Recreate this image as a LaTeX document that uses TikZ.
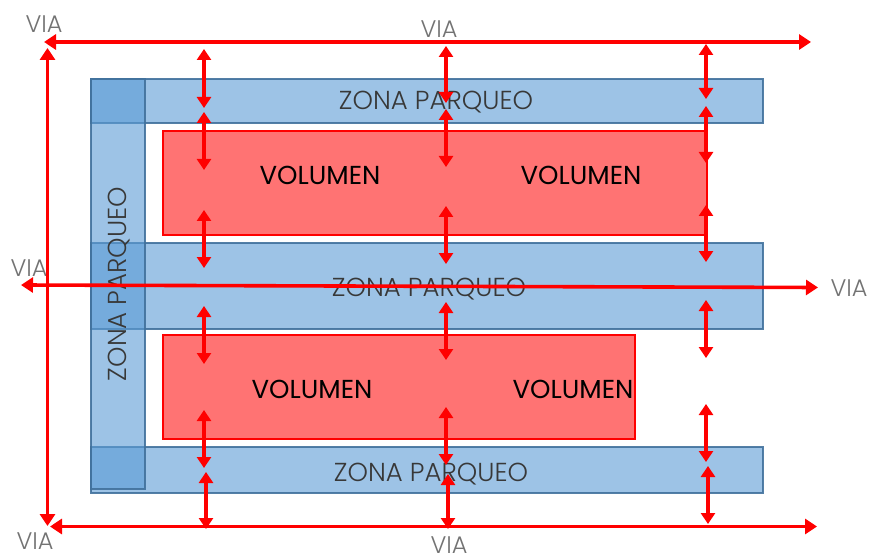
\documentclass[tikz,border=0pt]{standalone}
\usepackage{fontspec}
\setmainfont{Poppins}
\newfontfamily\thinfont{Poppins Light}
\usetikzlibrary{arrows.meta}
\definecolor{barblue}{HTML}{5B9BD5}
\definecolor{barline}{HTML}{41719C}
\tikzset{
  x=1pt,y=-1pt,
  zone/.style={draw=barline,line width=1.3pt,fill=barblue,fill opacity=.6,draw opacity=.9,inner sep=0pt,outer sep=0pt,rectangle},
  vol/.style={draw=red,line width=1.3pt,fill=red,fill opacity=.55,inner sep=0pt,outer sep=0pt,rectangle},
  zlabel/.style={font=\thinfont\fontsize{26}{26}\selectfont,text=black!78,inner sep=0pt},
  vlabel/.style={font=\fontsize{26}{26}\selectfont,text=black,inner sep=0pt},
  vialabel/.style={font=\thinfont\fontsize{24}{24}\selectfont,text=black!55,inner sep=0pt},
  road/.style={draw=red,line width=3.6pt,{Triangle[length=12pt,width=15pt]}-{Triangle[length=12pt,width=15pt]}},
  gap/.style={draw=red,line width=3.6pt,{Triangle[length=11pt,width=14pt]}-{Triangle[length=11pt,width=14pt]}}
}
\newcommand{\gaparrow}[5]{\coordinate (#1a) at (#2,#3);\coordinate (#1b) at (#4,#5);\draw[gap] (#1a) -- (#1b);}
\begin{document}
\begin{tikzpicture}
\useasboundingbox (0,0) rectangle (871,559);
% parking bars
\node[zone,minimum width=672pt,minimum height=44pt] (ztop) at (427,101) {};
\node[zone,minimum width=672pt,minimum height=86pt] (zmid) at (427,286) {};
\node[zone,minimum width=672pt,minimum height=46pt] (zbot) at (427,470) {};
\node[zone,minimum width=54pt,minimum height=410pt] (zleft) at (118,284) {};
% volumes
\node[vol,minimum width=544pt,minimum height=104pt] (v1) at (435,183) {};
\node[vol,minimum width=472pt,minimum height=104pt] (v2) at (399,387) {};
% labels
\node[zlabel] (ltop) at (436,102) {ZONA PARQUEO};
\node[zlabel] (lmid) at (429,289) {ZONA PARQUEO};
\node[zlabel] (lbot) at (431,474) {ZONA PARQUEO};
\node[zlabel,rotate=90] (lleft) at (119,284) {ZONA PARQUEO};
\node[vlabel] (va) at (320,175) {VOLUMEN};
\node[vlabel] (vb) at (581,175) {VOLUMEN};
\node[vlabel] (vc) at (312,389) {VOLUMEN};
\node[vlabel] (vd) at (573,389) {VOLUMEN};
\node[vialabel] (via1) at (44,24) {VIA};
\node[vialabel] (via2) at (439,29) {VIA};
\node[vialabel] (via3) at (29,268) {VIA};
\node[vialabel] (via4) at (849,288) {VIA};
\node[vialabel] (via5) at (35,541) {VIA};
\node[vialabel] (via6) at (449,545) {VIA};
% roads
\coordinate (ra) at (44,42);\coordinate (rb) at (811,42);
\draw[road] (ra) -- (rb);
\coordinate (rc) at (47.5,48);\coordinate (rd) at (47.5,526);
\draw[road] (rc) -- (rd);
\coordinate (re) at (50,526.5);\coordinate (rf) at (817,526.5);
\draw[road] (re) -- (rf);
\coordinate (rg) at (21,285);\coordinate (rh) at (818,287.5);
\draw[road] (rg) -- (rh);
% gaps
\gaparrow{a1}{204}{49}{204}{108}
\gaparrow{a2}{204}{112}{204}{170}
\gaparrow{a3}{204}{210}{204}{268}
\gaparrow{a4}{204}{306}{204}{364}
\gaparrow{a5}{204}{410}{204}{468}
\gaparrow{a6}{206}{472}{206}{529}
\gaparrow{b1}{446}{46}{446}{103}
\gaparrow{b2}{446}{109}{446}{167}
\gaparrow{b3}{446}{206}{446}{264}
\gaparrow{b4}{446}{302}{446}{360}
\gaparrow{b5}{446}{407}{446}{465}
\gaparrow{b6}{448}{474}{448}{529}
\gaparrow{c1}{706}{44}{706}{99}
\gaparrow{c2}{706}{106}{706}{163}
\gaparrow{c3}{706}{205}{706}{262}
\gaparrow{c4}{706}{300}{706}{358}
\gaparrow{c5}{706}{404}{706}{462}
\gaparrow{c6}{708}{466}{708}{524}
\end{tikzpicture}
\end{document}
